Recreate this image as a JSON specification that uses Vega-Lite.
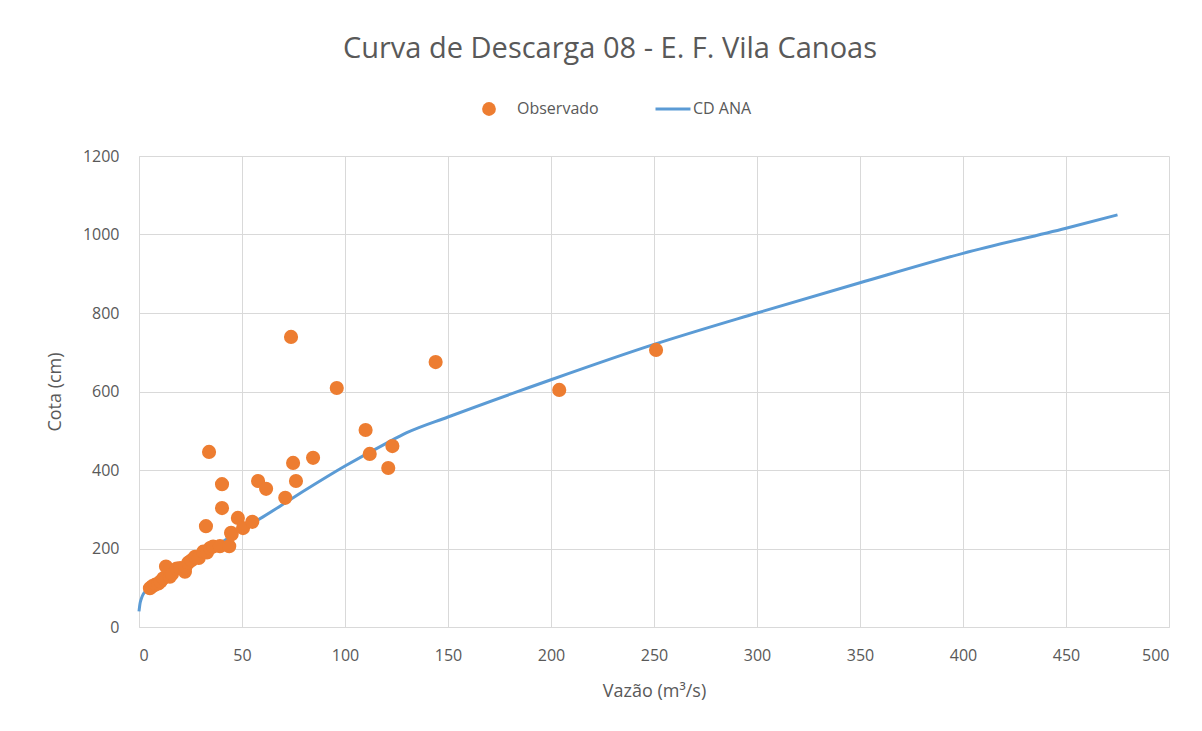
{
  "$schema": "https://vega.github.io/schema/vega-lite/v6.json",
  "autosize": "none",
  "width": 1030,
  "height": 471,
  "padding": {"left": 139, "top": 156, "right": 33, "bottom": 104},
  "background": "white",
  "config": {
    "view": {"stroke": null},
    "font": "Open Sans"
  },
  "title": {
    "text": "Curva de Descarga 08 - E. F. Vila Canoas",
    "fontSize": 29,
    "fontWeight": "normal",
    "color": "#595959",
    "font": "Open Sans",
    "anchor": "middle",
    "dx": -44,
    "offset": 26
  },
  "datasets": {
    "obs": [
      {"q": 5.3, "h": 99}, {"q": 6.5, "h": 104}, {"q": 8, "h": 108}, {"q": 9.4, "h": 111},
      {"q": 10.5, "h": 116}, {"q": 11.8, "h": 124}, {"q": 13.1, "h": 154}, {"q": 15, "h": 128},
      {"q": 16, "h": 135}, {"q": 18.3, "h": 149}, {"q": 20, "h": 150}, {"q": 22.3, "h": 141},
      {"q": 22.5, "h": 152}, {"q": 23.9, "h": 164}, {"q": 25.5, "h": 170}, {"q": 27.2, "h": 179},
      {"q": 29, "h": 176}, {"q": 31.2, "h": 192}, {"q": 32.5, "h": 257}, {"q": 33, "h": 190},
      {"q": 34, "h": 446}, {"q": 34.5, "h": 201}, {"q": 36, "h": 205}, {"q": 39.3, "h": 206},
      {"q": 40.3, "h": 364}, {"q": 40.3, "h": 303}, {"q": 43.8, "h": 206}, {"q": 44.7, "h": 240},
      {"q": 45, "h": 236}, {"q": 48, "h": 278}, {"q": 50.5, "h": 252}, {"q": 55, "h": 268},
      {"q": 57.8, "h": 372}, {"q": 61.7, "h": 352}, {"q": 71, "h": 329}, {"q": 73.8, "h": 739},
      {"q": 74.8, "h": 418}, {"q": 76.2, "h": 372}, {"q": 84.5, "h": 431}, {"q": 96, "h": 609},
      {"q": 110, "h": 502}, {"q": 112, "h": 441}, {"q": 121, "h": 405}, {"q": 123, "h": 461},
      {"q": 144, "h": 675}, {"q": 204, "h": 604}, {"q": 251, "h": 706}
    ],
    "curve": [
      {"q": 0, "h": 40}, {"q": 0.5, "h": 60}, {"q": 1, "h": 70}, {"q": 2, "h": 83},
      {"q": 3, "h": 90}, {"q": 5, "h": 100}, {"q": 10, "h": 120}, {"q": 20, "h": 152},
      {"q": 30, "h": 185}, {"q": 40, "h": 215}, {"q": 50, "h": 250}, {"q": 60, "h": 280},
      {"q": 75, "h": 330}, {"q": 100, "h": 410}, {"q": 120, "h": 468}, {"q": 130, "h": 495},
      {"q": 150, "h": 535}, {"q": 200, "h": 630}, {"q": 250, "h": 720}, {"q": 300, "h": 800},
      {"q": 350, "h": 877}, {"q": 400, "h": 952}, {"q": 450, "h": 1016}, {"q": 475, "h": 1050}
    ]
  },
  "encoding": {
    "x": {
      "field": "q", "type": "quantitative",
      "scale": {"domain": [0, 500], "nice": false},
      "axis": {
        "title": "Vazão (m³/s)", "values": [0, 50, 100, 150, 200, 250, 300, 350, 400, 450, 500],
        "format": "d",
        "grid": true, "gridColor": "#d9d9d9", "gridWidth": 1,
        "domainColor": "#d9d9d9", "ticks": false, "labelPadding": 20,
        "labelFontSize": 16, "labelColor": "#595959", "labelFont": "Open Sans",
        "titleFontSize": 18, "titleColor": "#595959", "titleFontWeight": "normal", "titleFont": "Open Sans",
        "titlePadding": 19
      }
    },
    "y": {
      "field": "h", "type": "quantitative",
      "scale": {"domain": [0, 1200], "nice": false},
      "axis": {
        "title": "Cota (cm)", "values": [0, 200, 400, 600, 800, 1000, 1200],
        "format": "d",
        "grid": true, "gridColor": "#d9d9d9", "gridWidth": 1,
        "domainColor": "#d9d9d9", "ticks": false, "labelPadding": 20,
        "labelFontSize": 16, "labelColor": "#595959", "labelFont": "Open Sans",
        "titleFontSize": 18, "titleColor": "#595959", "titleFontWeight": "normal", "titleFont": "Open Sans",
        "titlePadding": 18
      }
    }
  },
  "layer": [
    {
      "data": {"name": "curve"},
      "transform": [{"calculate": "'CD ANA'", "as": "serie"}],
      "mark": {"type": "line", "strokeWidth": 3, "interpolate": "monotone"},
      "encoding": {
        "stroke": {
          "field": "serie", "type": "nominal",
          "scale": {"domain": ["CD ANA"], "range": ["#5B9BD5"]},
          "legend": {
            "title": null, "orient": "none", "legendX": 515, "legendY": -66,
            "symbolType": "stroke", "symbolStrokeWidth": 3, "symbolSize": 1225,
            "labelFontSize": 16, "labelColor": "#595959", "labelFont": "Open Sans", "labelOffset": 1
          }
        }
      }
    },
    {
      "data": {"name": "obs"},
      "transform": [{"calculate": "'Observado'", "as": "serie"}],
      "mark": {"type": "point", "filled": true, "size": 200, "opacity": 1},
      "encoding": {
        "fill": {
          "field": "serie", "type": "nominal",
          "scale": {"domain": ["Observado"], "range": ["#ED7D31"]},
          "legend": {
            "title": null, "orient": "none", "legendX": 342, "legendY": -55,
            "symbolType": "circle", "symbolSize": 190, "symbolOpacity": 1,
            "labelFontSize": 16, "labelColor": "#595959", "labelFont": "Open Sans", "labelOffset": 20
          }
        }
      }
    }
  ]
}
